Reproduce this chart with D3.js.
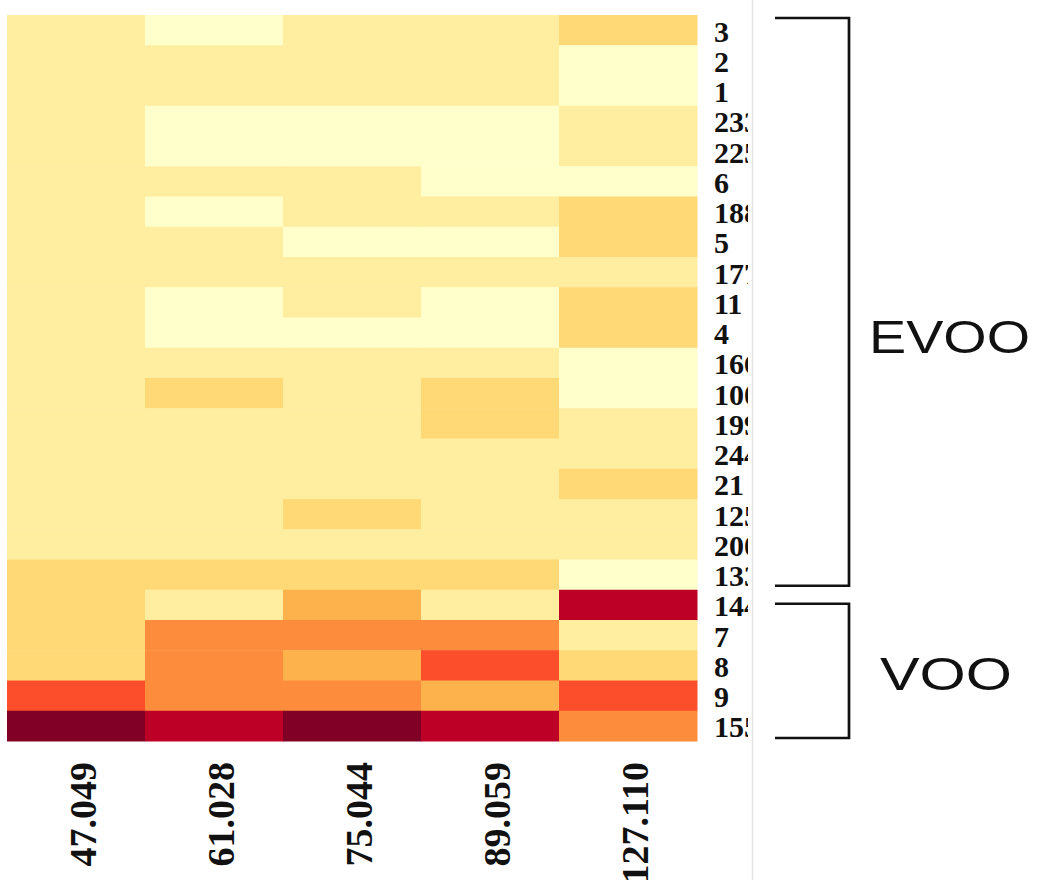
<!DOCTYPE html>
<html>
<head>
<meta charset="utf-8">
<script src="https://cdn.jsdelivr.net/npm/d3@7"></script>
<style>
  body { margin: 0; background: #fff; }
  svg { display: block; }
</style>
</head>
<body>
<svg id="chart" width="1038" height="880"></svg>
<script>
// m/z columns
const columns = ['47.049', '61.028', '75.044', '89.059', '127.110'];

// sample labels (third digit clipped in the figure)
const rows = ['3', '2', '1', '233', '225', '6', '188', '5', '177', '11', '4', '166',
    '100', '199', '244', '21', '125', '200', '133', '144', '7', '8', '9', '155'];

// colour class read for each cell (0 = lightest ... 8 = darkest), columns in order above
const values = [
    [1, 0, 1, 1, 2],
    [1, 1, 1, 1, 0],
    [1, 1, 1, 1, 0],
    [1, 0, 0, 0, 1],
    [1, 0, 0, 0, 1],
    [1, 1, 1, 0, 0],
    [1, 0, 1, 1, 2],
    [1, 1, 0, 0, 2],
    [1, 1, 1, 1, 1],
    [1, 0, 1, 0, 2],
    [1, 0, 0, 0, 2],
    [1, 1, 1, 1, 0],
    [1, 2, 1, 2, 0],
    [1, 1, 1, 2, 1],
    [1, 1, 1, 1, 1],
    [1, 1, 1, 1, 2],
    [1, 1, 2, 1, 1],
    [1, 1, 1, 1, 1],
    [2, 2, 2, 2, 0],
    [2, 1, 3, 1, 7],
    [2, 4, 4, 4, 1],
    [2, 4, 3, 5, 2],
    [5, 4, 4, 3, 5],
    [8, 7, 8, 7, 4]
];

// groups: first and last sample of each bracket
const groups = [
    { name: 'EVOO', from: '3', to: '133' },
    { name: 'VOO', from: '144', to: '155' }
];

const svg = d3.select('#chart');

const heat = { left: 7, right: 697, top: 15, bottom: 741 };

const x = d3.scaleBand()
    .domain(columns)
    .range([heat.left, heat.right]);

const y = d3.scaleBand()
    .domain(rows)
    .range([heat.top, heat.bottom]);

const color = d3.scaleQuantize()
    .domain([-0.5, 8.5])
    .range(d3.schemeYlOrRd[9]);

const cells = [];
rows.forEach((r, i) => {
    columns.forEach((c, j) => {
        cells.push({ row: r, col: c, value: values[i][j] });
    });
});

// cells
svg.append('g')
    .attr('id', 'cells')
    .selectAll('rect')
    .data(cells)
    .enter()
    .append('rect')
    .attr('x', d => x(d.col))
    .attr('y', d => y(d.row))
    .attr('width', x.bandwidth() + 0.5)
    .attr('height', y.bandwidth() + 0.5)
    .attr('fill', d => color(d.value));

// clip for row labels (the figure cuts them just before the separator)
const clipX = 748;
const sepX = 752;
svg.append('clipPath')
    .attr('id', 'label-clip')
    .append('rect')
    .attr('x', heat.right)
    .attr('y', 0)
    .attr('width', clipX - heat.right)
    .attr('height', 880);

svg.append('g')
    .attr('id', 'row-labels')
    .attr('clip-path', 'url(#label-clip)')
    .selectAll('text')
    .data(rows)
    .enter()
    .append('text')
    .attr('x', heat.right + 17)
    .attr('y', d => y(d) + y.bandwidth() / 2 + 1)
    .attr('dominant-baseline', 'central')
    .attr('font-family', '"Liberation Serif", "DejaVu Serif", serif')
    .attr('font-weight', 'bold')
    .attr('font-size', 30)
    .attr('fill', '#111')
    .text(d => d);

// thin separator line
svg.append('line')
    .attr('x1', sepX + 0.5)
    .attr('x2', sepX + 0.5)
    .attr('y1', 0)
    .attr('y2', 880)
    .attr('stroke', '#e2e2e2')
    .attr('stroke-width', 1.5);

// column labels
svg.append('g')
    .attr('id', 'col-labels')
    .selectAll('text')
    .data(columns)
    .enter()
    .append('text')
    .attr('transform', d => `translate(${x(d) + x.bandwidth() / 2 + 20},762) rotate(-90)`)
    .attr('text-anchor', 'end')
    .attr('font-family', '"Liberation Serif", "DejaVu Serif", serif')
    .attr('font-weight', 'bold')
    .attr('font-size', 38)
    .attr('fill', '#111')
    .text(d => d);

// brackets
const bx0 = 775, bx1 = 849;
const gb = svg.append('g').attr('id', 'brackets');
groups.forEach((g, i) => {
    const top = i === 0 ? y(g.from) + 3 : y(g.from) + 14;
    const bottom = i === 0 ? y(g.to) + y.bandwidth() - 4 : y(g.to) + y.bandwidth() - 3;
    gb.append('path')
        .attr('d', `M${bx0},${top}H${bx1}V${bottom}H${bx0}`)
        .attr('fill', 'none')
        .attr('stroke', '#111')
        .attr('stroke-width', 2.7);
    gb.append('text')
        .attr('x', i === 0 ? 869 : 880)
        .attr('y', (top + bottom) / 2 + (i === 0 ? 51 : 19))
        .attr('font-family', '"Liberation Sans", Arial, sans-serif')
        .attr('font-size', 47)
        .attr('textLength', i === 0 ? 161 : 132)
        .attr('lengthAdjust', 'spacingAndGlyphs')
        .attr('fill', '#111')
        .text(g.name);
});
</script>
</body>
</html>
